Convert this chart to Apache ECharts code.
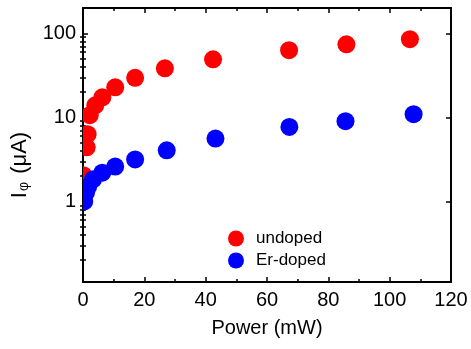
<!DOCTYPE html>
<html>
<head>
<meta charset="utf-8">
<script src="https://cdn.jsdelivr.net/npm/echarts@6/dist/echarts.min.js"></script>
<style>
  html, body { margin: 0; padding: 0; background: #fff; }
  #chart { width: 471px; height: 349px; }
</style>
</head>
<body>
<div id="chart"></div>
<script>
// data: power (mW) vs photocurrent (uA)
const powerUndoped = [0.2, 0.1, 1.2, 1.5, 2.2, 4.0, 6.3, 10.5, 17.0, 26.7, 42.4, 67.2, 85.9, 106.6];
const currentUndoped = [1.05, 2.05, 4.4, 6.3, 10.6, 13.9, 17.3, 22.8, 29.5, 38.3, 49, 63, 74, 85];
const powerErDoped = [0.4, 1.0, 1.7, 3.3, 6.3, 10.5, 17.0, 27.3, 43.2, 67.3, 85.6, 107.8];
const currentErDoped = [1.0, 1.28, 1.5, 1.83, 2.2, 2.6, 3.16, 4.05, 5.6, 7.7, 9.0, 10.9];
const minorTicksY = [0.2, 0.3, 0.4, 0.5, 0.6, 0.7, 0.8, 0.9, 2, 3, 4, 5, 6, 7, 8, 9, 20, 30, 40, 50, 60, 70, 80, 90];

const font = "'Liberation Sans', Arial, sans-serif";
const black = '#000';

const chart = echarts.init(document.getElementById('chart'));

const xBase = {
  type: 'value',
  min: 0,
  max: 120,
  interval: 20,
  axisLine: { onZero: false, lineStyle: { color: black, width: 2 } },
  axisTick: { inside: true, length: 5, lineStyle: { color: black, width: 1.5 } },
  minorTick: { show: true, splitNumber: 2, length: 3, lineStyle: { color: black, width: 1.5 } },
  splitLine: { show: false },
  minorSplitLine: { show: false }
};

const yBase = {
  type: 'log',
  logBase: 10,
  min: 0.11,
  max: 200,
  axisLine: { onZero: false, lineStyle: { color: black, width: 2 } },
  axisTick: { inside: true, length: 5, lineStyle: { color: black, width: 1.5 } },
  splitLine: { show: false }
};

const yMinor = {
  type: 'log',
  logBase: 10,
  min: 0.11,
  max: 200,
  axisLine: { show: false },
  axisLabel: { show: false },
  axisTick: { inside: true, length: 3, customValues: minorTicksY, lineStyle: { color: black, width: 1.5 } },
  splitLine: { show: false }
};

function dots(name, xs, ys, color) {
  return {
    name: name,
    type: 'custom',
    clip: true,
    itemStyle: { color: color },
    encode: { x: 0, y: 1 },
    data: xs.map((x, i) => [x, ys[i]]),
    renderItem: (params, api) => {
      const p = api.coord([api.value(0), api.value(1)]);
      return {
        type: 'circle',
        shape: { cx: p[0], cy: p[1], r: 9 },
        style: { fill: color }
      };
    }
  };
}

chart.setOption({
  animation: false,
  grid: { left: 83, right: 20, top: 8, bottom: 67 },
  legend: {
    orient: 'vertical',
    left: 228,
    top: 230,
    padding: 0,
    itemWidth: 16,
    itemHeight: 16,
    itemGap: 5,
    icon: 'circle',
    data: ['undoped', 'Er-doped'],
    textStyle: { fontFamily: font, fontSize: 17, color: black, lineHeight: 16, padding: [0, 0, 0, 7] }
  },
  xAxis: [
    Object.assign({}, xBase, {
      position: 'bottom',
      name: 'Power (mW)',
      nameLocation: 'middle',
      nameGap: 36,
      nameTextStyle: { fontFamily: font, fontSize: 20, color: black },
      axisLabel: { fontFamily: font, fontSize: 20, color: black, margin: 8 }
    }),
    Object.assign({}, xBase, { position: 'top', axisLabel: { show: false } })
  ],
  yAxis: [
    Object.assign({}, yBase, {
      position: 'left',
      name: '{i|I}{s|φ}{n| (μA)}',
      nameLocation: 'middle',
      nameRotate: 90,
      nameGap: 52,
      nameTextStyle: {
        fontFamily: font,
        color: black,
        padding: [0, 40, 0, 0],
        rich: {
          i: { fontFamily: font, fontSize: 22, color: black },
          s: { fontFamily: font, fontSize: 14, color: black, padding: [8, 2, 0, 1] },
          n: { fontFamily: font, fontSize: 22, color: black }
        }
      },
      axisLabel: { fontFamily: font, fontSize: 20, color: black, margin: 7, showMinLabel: false, showMaxLabel: false }
    }),
    Object.assign({}, yBase, { position: 'right', axisLabel: { show: false } }),
    Object.assign({}, yMinor, { position: 'left' }),
    Object.assign({}, yMinor, { position: 'right' })
  ],
  series: [
    dots('undoped', powerUndoped, currentUndoped, '#ff0000'),
    dots('Er-doped', powerErDoped, currentErDoped, '#0000ff')
  ]
});
</script>
</body>
</html>
